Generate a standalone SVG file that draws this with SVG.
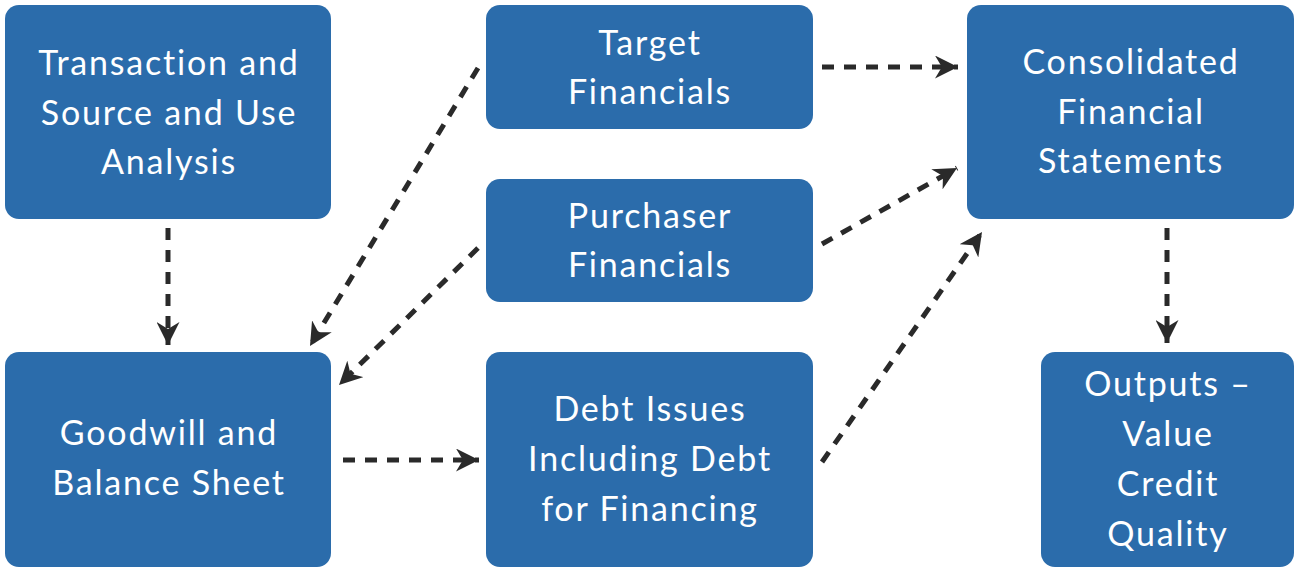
<svg xmlns="http://www.w3.org/2000/svg" width="1299" height="572" viewBox="0 0 1299 572">
<style>
.box{fill:#2B6CAB;}
.t{font-family:Lato,"Open Sans","Liberation Sans",sans-serif;font-size:34px;letter-spacing:1.8px;fill:#ffffff;text-anchor:middle;}
.c{stroke:#2a2a2a;stroke-width:5;stroke-dasharray:12 10;fill:none;marker-end:url(#ah);}
</style>
<defs>
<marker id="ah" markerUnits="userSpaceOnUse" markerWidth="23" markerHeight="23" viewBox="0 0 20 20" refX="20" refY="10" orient="auto">
<path d="M0,0 L20,10 L0,20 L6,10 z" fill="#2a2a2a"/>
</marker>
</defs>
<rect width="1299" height="572" fill="#ffffff"/>
<g id="n-transaction"><rect class="box" x="5" y="5" width="326" height="214" rx="14"/>
<text class="t" x="169" y="75">Transaction and</text><text class="t" x="169" y="125">Source and Use</text><text class="t" x="169" y="174">Analysis</text></g>
<g id="n-target"><rect class="box" x="486" y="5" width="327" height="124" rx="14"/>
<text class="t" x="650" y="55">Target</text><text class="t" x="650" y="104">Financials</text></g>
<g id="n-purchaser"><rect class="box" x="486" y="179" width="327" height="123" rx="14"/>
<text class="t" x="650" y="228">Purchaser</text><text class="t" x="650" y="277">Financials</text></g>
<g id="n-debt"><rect class="box" x="486" y="352" width="327" height="215" rx="14"/>
<text class="t" x="650" y="421">Debt Issues</text><text class="t" x="650" y="471">Including Debt</text><text class="t" x="650" y="521">for Financing</text></g>
<g id="n-goodwill"><rect class="box" x="5" y="352" width="326" height="215" rx="14"/>
<text class="t" x="169" y="445">Goodwill and</text><text class="t" x="169" y="495">Balance Sheet</text></g>
<g id="n-consolidated"><rect class="box" x="967" y="5" width="327" height="214" rx="14"/>
<text class="t" x="1131" y="74">Consolidated</text><text class="t" x="1131" y="124">Financial</text><text class="t" x="1131" y="173">Statements</text></g>
<g id="n-outputs"><rect class="box" x="1041" y="352" width="253" height="215" rx="14"/>
<text class="t" x="1168" y="396">Outputs –</text><text class="t" x="1168" y="446">Value</text><text class="t" x="1168" y="496">Credit</text><text class="t" x="1168" y="546">Quality</text></g>
<g id="connectors">
<line class="c" x1="168" y1="228" x2="168" y2="345"/>
<line class="c" x1="478" y1="68" x2="310" y2="346"/>
<line class="c" x1="478" y1="248" x2="339" y2="385"/>
<line class="c" x1="822" y1="67" x2="958" y2="67"/>
<line class="c" x1="822" y1="244" x2="957" y2="168"/>
<line class="c" x1="822" y1="462" x2="982" y2="232"/>
<line class="c" x1="343" y1="460" x2="479" y2="460"/>
<line class="c" x1="1167" y1="228" x2="1167" y2="343"/>
</g>
</svg>
